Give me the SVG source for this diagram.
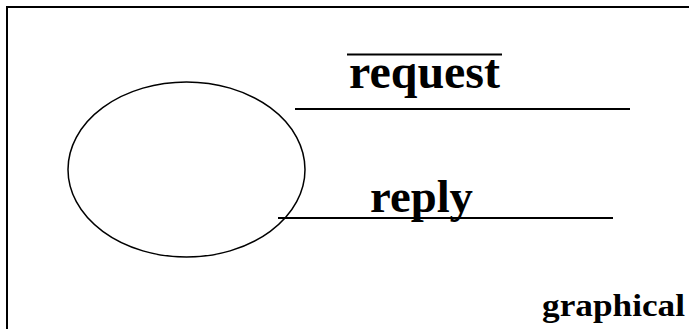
<svg xmlns="http://www.w3.org/2000/svg" width="689" height="329" viewBox="0 0 689 329">
<style>
.t{font-family:"Liberation Serif","Times New Roman",serif;font-weight:bold;fill:#000}
.ln{stroke:#000;stroke-width:2;fill:none}
</style>
<rect width="689" height="329" fill="#fff"/>
<g id="frame">
<line class="ln" x1="6" y1="7" x2="689" y2="7" stroke-width="3"/>
<line class="ln" x1="7" y1="6" x2="7" y2="329" stroke-width="3"/>
</g>
<g id="process">
<ellipse cx="186.5" cy="169.5" rx="118.5" ry="87.5" fill="none" stroke="#000" stroke-width="1.5"/>
</g>
<g id="connectors">
<line class="ln" x1="295" y1="109" x2="630" y2="109"/>
<line class="ln" x1="278" y1="218" x2="613" y2="218"/>
</g>
<g id="request">
<line class="ln" x1="347" y1="54.5" x2="502" y2="54.5"/>
<text class="t" x="349" y="88" font-size="48" textLength="151" lengthAdjust="spacingAndGlyphs">request</text>
</g>
<g id="reply">
<text class="t" x="370" y="212" font-size="47" textLength="103" lengthAdjust="spacingAndGlyphs">reply</text>
</g>
<g id="label">
<text class="t" x="542" y="316" font-size="32" textLength="143" lengthAdjust="spacingAndGlyphs">graphical</text>
</g>
</svg>
